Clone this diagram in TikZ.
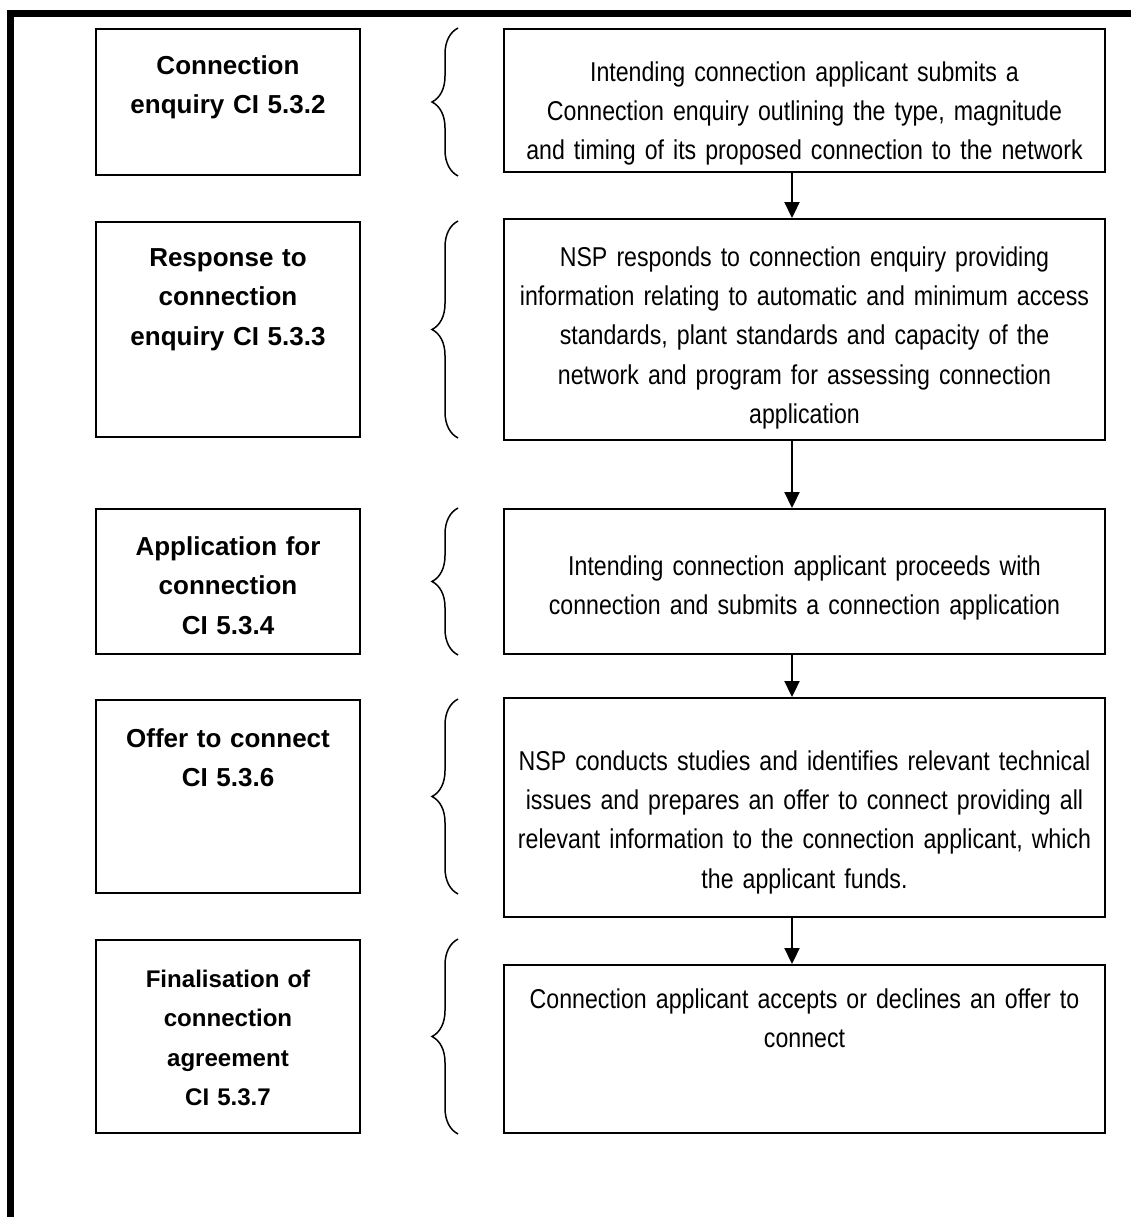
\documentclass[tikz,border=0pt]{standalone}
\usepackage{fontspec}
\setmainfont{Liberation Sans}
\newfontfamily\narrowfont[FakeStretch=0.85, WordSpace=0.8]{Liberation Sans}
\usetikzlibrary{arrows.meta,decorations.pathreplacing}

\tikzset{
  stagebox/.style={draw, line width=1.1pt, minimum width=5.28cm, inner sep=0pt},
  actbox/.style={draw, line width=1.1pt, minimum width=12.02cm, inner sep=0pt},
  stagetext/.style={font=\bfseries\fontsize{14.8}{22.5}\selectfont, align=center, text width=5cm, inner sep=0pt, anchor=base},
  acttext/.style={font=\narrowfont\fontsize{15.5}{22.4}\selectfont, align=center, text width=13cm, inner sep=0pt, anchor=base},
  bracket/.style={decorate, decoration={brace, amplitude=0.52cm}, line width=0.85pt},
  flow/.style={-{Triangle[length=0.32cm, width=0.3cm]}, line width=1.1pt},
}

\begin{document}
\begin{tikzpicture}[x=0.02cm, y=-0.02cm]
    \useasboundingbox (0,0) rectangle (1131,1217);

    % Outer frame (top and left only)
    \draw[line width=4pt] (10.5,1217) -- (10.5,13.5) -- (1131,13.5);

    % Helper columns
    \coordinate (bx) at (458,0);
    \coordinate (ax) at (792,0);

    % --- Stage boxes (left) ---
    \node[stagebox, minimum height=2.92cm] (l1) at (228,102) {};
    \node[stagebox, minimum height=4.30cm] (l2) at (228,329.5) {};
    \node[stagebox, minimum height=2.90cm] (l3) at (228,581.5) {};
    \node[stagebox, minimum height=3.86cm] (l4) at (228,796.5) {};
    \node[stagebox, minimum height=3.86cm] (l5) at (228,1036.5) {};

    \node[stagetext] (lt1) at (228,74) {Connection\\enquiry CI 5.3.2};
    \node[stagetext] (lt2) at (228,266) {Response to\\connection\\enquiry CI 5.3.3};
    \node[stagetext] (lt3) at (228,555) {Application for\\connection\\CI 5.3.4};
    \node[stagetext] (lt4) at (228,747) {Offer to connect\\CI 5.3.6};
    \node[stagetext, font=\bfseries\fontsize{13.7}{22.5}\selectfont] (lt5) at (228,987)
        {Finalisation of\\connection\\agreement\\CI 5.3.7};

    % --- Action boxes (right) ---
    \node[actbox, minimum height=2.86cm] (r1) at (804.5,100.5) {};
    \node[actbox, minimum height=4.42cm] (r2) at (804.5,329.5) {};
    \node[actbox, minimum height=2.90cm] (r3) at (804.5,581.5) {};
    \node[actbox, minimum height=4.38cm] (r4) at (804.5,807.5) {};
    \node[actbox, minimum height=3.36cm] (r5) at (804.5,1049) {};

    \node[acttext] (rt1) at (804.5,81) {Intending connection applicant submits a\\
        Connection enquiry outlining the type, magnitude\\
        and timing of its proposed connection to the network};
    \node[acttext] (rt2) at (804.5,266) {NSP responds to connection enquiry providing\\
        information relating to automatic and minimum access\\
        standards, plant standards and capacity of the\\
        network and program for assessing connection\\
        application};
    \node[acttext] (rt3) at (804.5,575) {Intending connection applicant proceeds with\\
        connection and submits a connection application};
    \node[acttext] (rt4) at (804.5,770) {NSP conducts studies and identifies relevant technical\\
        issues and prepares an offer to connect providing all\\
        relevant information to the connection applicant, which\\
        the applicant funds.};
    \node[acttext] (rt5) at (804.5,1008) {Connection applicant accepts or declines an offer to\\
        connect};

    % Braces
    \foreach \s in {l1,l2,l3,l4,l5}
        \draw[bracket] (bx |- \s.south) -- (bx |- \s.north);

    % Flow arrows
    \draw[flow] (r1.south -| ax) -- (r2.north -| ax);
    \draw[flow] (r2.south -| ax) -- (r3.north -| ax);
    \draw[flow] (r3.south -| ax) -- (r4.north -| ax);
    \draw[flow] (r4.south -| ax) -- (r5.north -| ax);

\end{tikzpicture}
\end{document}
